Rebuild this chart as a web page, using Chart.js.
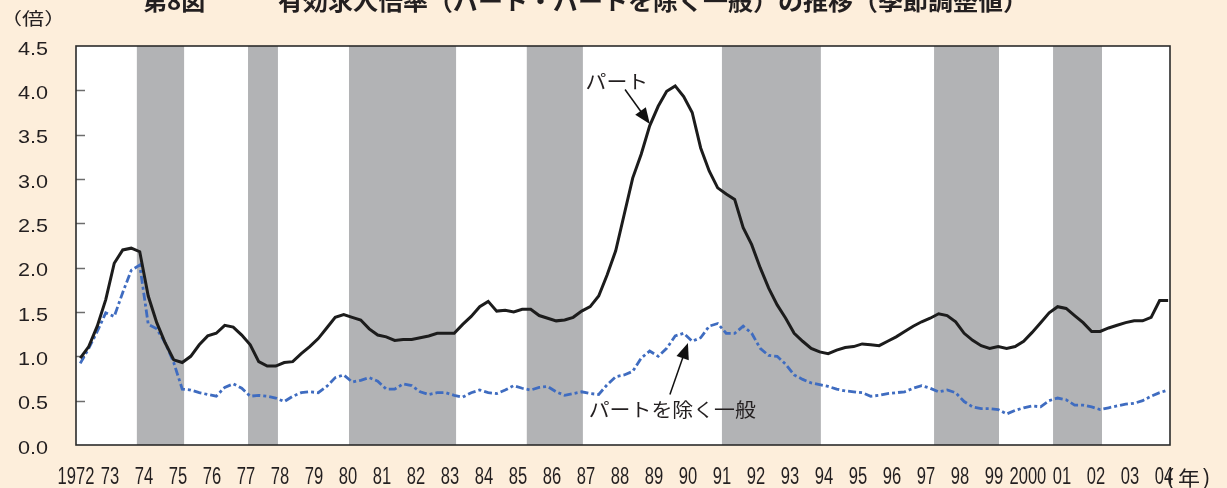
<!DOCTYPE html>
<html>
<head>
<meta charset="utf-8">
<script src="https://cdn.jsdelivr.net/npm/chart.js@4.4.1/dist/chart.umd.min.js"></script>
<style>
  html, body { margin: 0; padding: 0; background: #fdeedb; }
  canvas { display: block; }
</style>
</head>
<body>
<canvas id="myChart" width="1227" height="488"></canvas>
<script>
// quarterly, 1972 Q1 - 2004 Q1
const startYear = 1972;

const partValues = [
  0.98, 1.11, 1.34, 1.64,  2.05, 2.20, 2.22, 2.18,  1.68, 1.38, 1.15, 0.96,  // 72-74
  0.93, 1.00, 1.13, 1.23,  1.26, 1.35, 1.33, 1.24,  1.13, 0.94, 0.89, 0.89,  // 75-77
  0.93, 0.94, 1.03, 1.11,  1.20, 1.32, 1.44, 1.47,  1.44, 1.41, 1.31, 1.24,  // 78-80
  1.22, 1.18, 1.19, 1.19,  1.21, 1.23, 1.26, 1.26,  1.26, 1.36, 1.45, 1.56,  // 81-83
  1.62, 1.51, 1.52, 1.50,  1.53, 1.53, 1.46, 1.43,  1.40, 1.41, 1.44, 1.51,  // 84-86
  1.56, 1.68, 1.92, 2.19,  2.60, 3.01, 3.28, 3.60,  3.82, 3.99, 4.05, 3.93,  // 87-89
  3.75, 3.35, 3.09, 2.90,  2.83, 2.77, 2.45, 2.26,  2.00, 1.77, 1.58, 1.43,  // 90-92
  1.26, 1.17, 1.09, 1.05,  1.03, 1.07, 1.10, 1.11,  1.14, 1.13, 1.12, 1.17,  // 93-95
  1.22, 1.28, 1.34, 1.39,  1.43, 1.48, 1.46, 1.39,  1.26, 1.18, 1.12, 1.09,  // 96-98
  1.11, 1.09, 1.11, 1.17,  1.27, 1.38, 1.49, 1.56,  1.54, 1.46, 1.38, 1.28,  // 99-01
  1.28, 1.32, 1.35, 1.38,  1.40, 1.40, 1.44, 1.63,  1.63                     // 02-04
];

const generalValues = [
  0.92, 1.09, 1.28, 1.49,  1.45, 1.72, 1.97, 2.03,  1.36, 1.31, 1.15, 0.93,
  0.63, 0.62, 0.59, 0.57,  0.55, 0.65, 0.69, 0.64,  0.55, 0.56, 0.55, 0.53,
  0.49, 0.55, 0.59, 0.60,  0.59, 0.66, 0.76, 0.79,  0.71, 0.73, 0.76, 0.72,
  0.63, 0.63, 0.69, 0.67,  0.60, 0.57, 0.59, 0.59,  0.56, 0.54, 0.59, 0.62,
  0.59, 0.58, 0.62, 0.67,  0.64, 0.62, 0.65, 0.66,  0.60, 0.56, 0.58, 0.60,
  0.58, 0.57, 0.68, 0.77,  0.79, 0.83, 0.98, 1.06,  1.00, 1.09, 1.23, 1.26,
  1.17, 1.21, 1.34, 1.37,  1.26, 1.26, 1.34, 1.26,  1.09, 1.01, 1.00, 0.91,
  0.79, 0.74, 0.70, 0.68,  0.66, 0.63, 0.61, 0.60,  0.59, 0.55, 0.56, 0.58,
  0.59, 0.60, 0.64, 0.67,  0.64, 0.60, 0.62, 0.59,  0.49, 0.43, 0.41, 0.41,
  0.40, 0.35, 0.39, 0.42,  0.44, 0.43, 0.50, 0.53,  0.51, 0.45, 0.45, 0.43,
  0.40, 0.42, 0.44, 0.46,  0.47, 0.50, 0.55, 0.59,  0.62
];

const yearLabels = ['1972','73','74','75','76','77','78','79','80','81','82','83','84','85','86','87',
  '88','89','90','91','92','93','94','95','96','97','98','99','2000','01','02','03','04'];

const yTickValues = [0, 0.5, 1.0, 1.5, 2.0, 2.5, 3.0, 3.5, 4.0, 4.5];

// recession periods (shaded), in years
const recessions = [
  [1973.79, 1975.18], [1977.06, 1977.94], [1980.03, 1983.18], [1985.26, 1986.91],
  [1991.00, 1993.91], [1997.24, 1999.15], [2000.74, 2002.18]
];

const titleHead = '第8図';
const titleBody = '有効求人倍率（パート・パートを除く一般）の推移（季節調整値）';

// labels with arrows, placed in data units
const notes = [
  { text: 'パート', x: 1987.91, y: 4.10, from: [1988.15, 4.01], to: [1988.88, 3.62] },
  { text: 'パートを除く一般', x: 1989.54, y: 0.40, from: [1989.47, 0.57], to: [1990.0, 1.15] }
];

const toPoints = vals => vals.map((v, i) => ({ x: startYear + (i + 0.5) / 4, y: v }));

const cjk = '"Noto Sans CJK JP", "Noto Sans", sans-serif';
const latin = '"Liberation Sans", Arial, sans-serif';

// text drawn with a horizontal stretch (sx); align: left / center / right
function stretchText(ctx, txt, x, y, font, sx, align, baseline) {
  ctx.save();
  ctx.font = font;
  ctx.textBaseline = baseline || 'middle';
  let w = ctx.measureText(txt).width * sx;
  let left = align === 'center' ? x - w / 2 : align === 'right' ? x - w : x;
  ctx.translate(left, y);
  ctx.scale(sx, 1);
  ctx.textAlign = 'left';
  ctx.fillText(txt, 0, 0);
  ctx.restore();
}

const bandsPlugin = {
  id: 'bands',
  beforeDatasetsDraw(chart) {
    let { ctx, chartArea: a, scales } = chart;
    ctx.save();
    ctx.fillStyle = '#ffffff';
    ctx.fillRect(a.left, a.top, a.right - a.left, a.bottom - a.top);
    ctx.fillStyle = '#b2b3b5';
    recessions.forEach(r => {
      let x1 = scales.x.getPixelForValue(r[0]);
      let x2 = scales.x.getPixelForValue(r[1]);
      ctx.fillRect(x1, a.top, x2 - x1, a.bottom - a.top);
    });
    // small inside ticks on y axis
    ctx.strokeStyle = '#6d6d6d';
    ctx.lineWidth = 1.5;
    yTickValues.slice(1, -1).forEach(v => {
      let y = Math.round(scales.y.getPixelForValue(v)) + 0.5;
      ctx.beginPath();
      ctx.moveTo(a.left, y);
      ctx.lineTo(a.left + 9, y);
      ctx.stroke();
    });
    ctx.restore();
  },
  afterDatasetsDraw(chart) {
    let { ctx, chartArea: a } = chart;
    ctx.save();
    ctx.strokeStyle = '#2b2b2b';
    ctx.lineWidth = 1.6;
    ctx.strokeRect(a.left, a.top, a.right - a.left, a.bottom - a.top);
    ctx.restore();
  }
};

const textPlugin = {
  id: 'texts',
  afterDraw(chart) {
    let { ctx, scales } = chart;
    ctx.save();
    ctx.fillStyle = '#231f20';

    // title, clipped at the top of the picture
    stretchText(ctx, titleHead, 143, 10, 'bold 24px ' + cjk, 1.0, 'left', 'alphabetic');
    ctx.font = 'bold 24px ' + cjk;
    let tw = ctx.measureText(titleBody).width;
    stretchText(ctx, titleBody, 278, 10, 'bold 24px ' + cjk, 750 / tw, 'left', 'alphabetic');

    // axis tick labels
    yTickValues.forEach(v => {
      let y = scales.y.getPixelForValue(v);
      stretchText(ctx, v.toFixed(1), 48, y + 8.5, '18px ' + latin, 1.2, 'right', 'alphabetic');
    });
    yearLabels.forEach((l, i) => {
      let x = scales.x.getPixelForValue(startYear + i);
      stretchText(ctx, l, x, 484, '23px ' + latin, 0.72, 'center', 'alphabetic');
    });

    stretchText(ctx, '（倍）', 0, 19, '17px ' + cjk, 1.3, 'left');
    stretchText(ctx, '(', 1167, 484, '22px ' + latin, 0.9, 'left', 'alphabetic');
    stretchText(ctx, '年', 1189, 478, '20px ' + cjk, 1.1, 'center');
    stretchText(ctx, ')', 1203, 484, '22px ' + latin, 0.9, 'left', 'alphabetic');

    notes.forEach(n => {
      let px = scales.x.getPixelForValue(n.x);
      let py = scales.y.getPixelForValue(n.y);
      stretchText(ctx, n.text, px, py, '19px ' + cjk, 1.1, 'center');
      let x1 = scales.x.getPixelForValue(n.from[0]), y1 = scales.y.getPixelForValue(n.from[1]);
      let x2 = scales.x.getPixelForValue(n.to[0]), y2 = scales.y.getPixelForValue(n.to[1]);
      let ang = Math.atan2(y2 - y1, x2 - x1);
      let c = Math.cos(ang), s = Math.sin(ang);
      ctx.strokeStyle = '#111';
      ctx.lineWidth = 1.5;
      ctx.beginPath();
      ctx.moveTo(x1, y1);
      ctx.lineTo(x2 - 12 * c, y2 - 12 * s);
      ctx.stroke();
      ctx.fillStyle = '#111';
      ctx.beginPath();
      ctx.moveTo(x2, y2);
      ctx.lineTo(x2 - 16 * c + 6.5 * s, y2 - 16 * s - 6.5 * c);
      ctx.lineTo(x2 - 16 * c - 6.5 * s, y2 - 16 * s + 6.5 * c);
      ctx.closePath();
      ctx.fill();
      ctx.fillStyle = '#231f20';
    });
    ctx.restore();
  }
};

let ctx = document.querySelector('#myChart').getContext('2d');
let myChart = new Chart(ctx, {
  type: 'line',
  data: {
    datasets: [{
      label: 'パート',
      data: toPoints(partValues),
      borderColor: '#1c1c1c',
      borderWidth: 3,
      pointRadius: 0,
      tension: 0
    }, {
      label: 'パートを除く一般',
      data: toPoints(generalValues),
      borderColor: '#3f6cc0',
      borderWidth: 2.8,
      borderDash: [8, 3, 3, 3],
      pointRadius: 0,
      tension: 0
    }]
  },
  options: {
    responsive: false,
    animation: false,
    devicePixelRatio: 1,
    layout: { padding: { top: 46, right: 57, left: 0, bottom: 0 } },
    plugins: { legend: { display: false }, tooltip: { enabled: false } },
    scales: {
      x: {
        type: 'linear',
        min: startYear,
        max: 2004.18,
        grid: { display: false, drawTicks: false },
        border: { display: false },
        ticks: { display: false },
        afterFit: s => { s.height = 43; }
      },
      y: {
        min: 0,
        max: 4.5,
        grid: { display: false, drawTicks: false },
        border: { display: false },
        ticks: { display: false, stepSize: 0.5 },
        afterFit: s => { s.width = 76; }
      }
    }
  },
  plugins: [bandsPlugin, textPlugin]
});
</script>
</body>
</html>
